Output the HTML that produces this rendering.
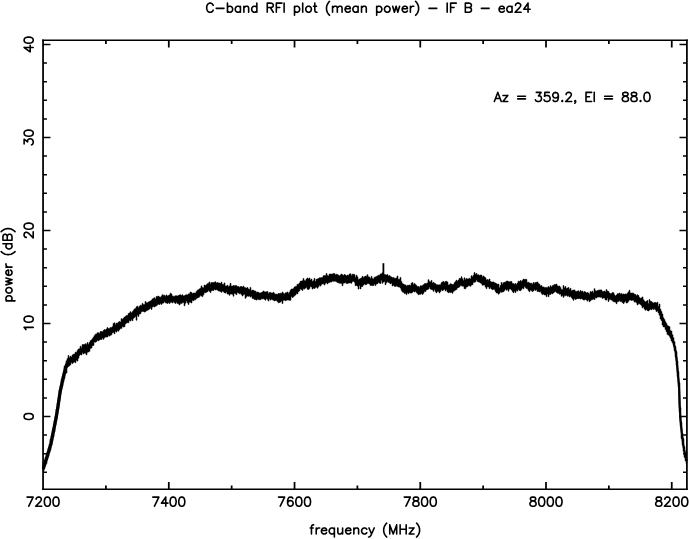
<!DOCTYPE html>
<html><head><meta charset="utf-8"><title>C-band RFI plot</title>
<style>
html,body{margin:0;padding:0;background:#fff;}
body{width:689px;height:539px;overflow:hidden;font-family:"Liberation Sans",sans-serif;}
svg{display:block;}
</style></head><body>
<svg width="689" height="539" viewBox="0 0 689 539">
<rect width="689" height="539" fill="#fff"/>
<path d="M43.05 39.45 V490.10 M686.90 39.45 V490.10M43.05 489.35 v-7.40M43.05 40.20 v7.40M105.92 489.35 v-3.90M105.92 40.20 v3.90M168.79 489.35 v-7.40M168.79 40.20 v7.40M231.66 489.35 v-3.90M231.66 40.20 v3.90M294.53 489.35 v-7.40M294.53 40.20 v7.40M357.40 489.35 v-3.90M357.40 40.20 v3.90M420.27 489.35 v-7.40M420.27 40.20 v7.40M483.14 489.35 v-3.90M483.14 40.20 v3.90M546.01 489.35 v-7.40M546.01 40.20 v7.40M608.88 489.35 v-3.90M608.88 40.20 v3.90M671.75 489.35 v-7.40M671.75 40.20 v7.40" fill="none" stroke="#000" stroke-width="1.75"/>
<path d="M42.20 40.20 H687.75 M42.20 489.35 H687.75M43.05 472.30 h3.90M686.90 472.30 h-3.90M43.05 453.70 h3.90M686.90 453.70 h-3.90M43.05 435.10 h3.90M686.90 435.10 h-3.90M43.05 416.50 h7.40M686.90 416.50 h-7.40M43.05 397.90 h3.90M686.90 397.90 h-3.90M43.05 379.30 h3.90M686.90 379.30 h-3.90M43.05 360.70 h3.90M686.90 360.70 h-3.90M43.05 342.10 h3.90M686.90 342.10 h-3.90M43.05 323.50 h7.40M686.90 323.50 h-7.40M43.05 304.90 h3.90M686.90 304.90 h-3.90M43.05 286.30 h3.90M686.90 286.30 h-3.90M43.05 267.70 h3.90M686.90 267.70 h-3.90M43.05 249.10 h3.90M686.90 249.10 h-3.90M43.05 230.50 h7.40M686.90 230.50 h-7.40M43.05 211.90 h3.90M686.90 211.90 h-3.90M43.05 193.30 h3.90M686.90 193.30 h-3.90M43.05 174.70 h3.90M686.90 174.70 h-3.90M43.05 156.10 h3.90M686.90 156.10 h-3.90M43.05 137.50 h7.40M686.90 137.50 h-7.40M43.05 118.90 h3.90M686.90 118.90 h-3.90M43.05 100.30 h3.90M686.90 100.30 h-3.90M43.05 81.70 h3.90M686.90 81.70 h-3.90M43.05 63.10 h3.90M686.90 63.10 h-3.90M43.05 44.50 h7.40M686.90 44.50 h-7.40" fill="none" stroke="#000" stroke-width="1.5"/>
<defs><clipPath id="vp"><rect x="42.20" y="40.20" width="645.55" height="449.15"/></clipPath></defs>
<g clip-path="url(#vp)">
<path d="M43.0 462.2 L44.0 462.2 L44.0 460.6 L45.0 460.6 L45.0 457.4 L46.0 457.4 L46.0 453.3 L47.0 453.3 L47.0 451.4 L48.0 451.4 L48.0 447.9 L49.0 447.9 L49.0 444.3 L50.0 444.3 L50.0 439.1 L51.0 439.1 L51.0 435.5 L52.0 435.5 L52.0 431.2 L53.0 431.2 L53.0 427.7 L54.0 427.7 L54.0 420.5 L55.0 420.5 L55.0 415.9 L56.0 415.9 L56.0 409.0 L57.0 409.0 L57.0 403.3 L58.0 403.3 L58.0 397.5 L59.0 397.5 L59.0 390.0 L60.0 390.0 L60.0 385.8 L61.0 385.8 L61.0 379.6 L62.0 379.6 L62.0 376.4 L63.0 376.4 L63.0 372.8 L64.0 372.8 L64.0 366.2 L65.0 366.2 L65.0 364.6 L66.0 364.6 L66.0 360.7 L67.0 360.7 L67.0 358.6 L68.0 358.6 L68.0 355.6 L69.0 355.6 L69.0 357.7 L70.0 357.7 L70.0 356.2 L71.0 356.2 L71.0 357.1 L72.0 357.1 L72.0 355.0 L73.0 355.0 L73.0 354.3 L74.0 354.3 L74.0 354.1 L75.0 354.1 L75.0 352.2 L76.0 352.2 L76.0 352.3 L77.0 352.3 L77.0 350.5 L78.0 350.5 L78.0 349.1 L79.0 349.1 L79.0 348.8 L80.0 348.8 L80.0 346.2 L81.0 346.2 L81.0 347.8 L82.0 347.8 L82.0 344.6 L83.0 344.6 L83.0 344.6 L84.0 344.6 L84.0 344.4 L85.0 344.4 L85.0 343.8 L86.0 343.8 L86.0 344.4 L87.0 344.4 L87.0 342.6 L88.0 342.6 L88.0 344.3 L89.0 344.3 L89.0 342.5 L90.0 342.5 L90.0 340.7 L91.0 340.7 L91.0 339.9 L92.0 339.9 L92.0 338.7 L93.0 338.7 L93.0 337.2 L94.0 337.2 L94.0 335.7 L95.0 335.7 L95.0 334.2 L96.0 334.2 L96.0 334.0 L97.0 334.0 L97.0 332.7 L98.0 332.7 L98.0 332.7 L99.0 332.7 L99.0 333.4 L100.0 333.4 L100.0 331.6 L101.0 331.6 L101.0 331.5 L102.0 331.5 L102.0 331.7 L103.0 331.7 L103.0 330.6 L104.0 330.6 L104.0 329.6 L105.0 329.6 L105.0 330.1 L106.0 330.1 L106.0 329.0 L107.0 329.0 L107.0 327.6 L108.0 327.6 L108.0 328.5 L109.0 328.5 L109.0 328.4 L110.0 328.4 L110.0 327.4 L111.0 327.4 L111.0 327.4 L112.0 327.4 L112.0 326.7 L113.0 326.7 L113.0 323.4 L114.0 323.4 L114.0 322.8 L115.0 322.8 L115.0 324.8 L116.0 324.8 L116.0 323.0 L117.0 323.0 L117.0 323.2 L118.0 323.2 L118.0 322.2 L119.0 322.2 L119.0 321.6 L120.0 321.6 L120.0 322.0 L121.0 322.0 L121.0 318.7 L122.0 318.7 L122.0 319.3 L123.0 319.3 L123.0 318.3 L124.0 318.3 L124.0 317.1 L125.0 317.1 L125.0 316.6 L126.0 316.6 L126.0 315.5 L127.0 315.5 L127.0 315.5 L128.0 315.5 L128.0 313.6 L129.0 313.6 L129.0 312.9 L130.0 312.9 L130.0 311.7 L131.0 311.7 L131.0 313.0 L132.0 313.0 L132.0 311.7 L133.0 311.7 L133.0 310.4 L134.0 310.4 L134.0 308.9 L135.0 308.9 L135.0 308.6 L136.0 308.6 L136.0 306.8 L137.0 306.8 L137.0 306.2 L138.0 306.2 L138.0 307.4 L139.0 307.4 L139.0 306.3 L140.0 306.3 L140.0 305.2 L141.0 305.2 L141.0 305.4 L142.0 305.4 L142.0 303.4 L143.0 303.4 L143.0 304.5 L144.0 304.5 L144.0 304.5 L145.0 304.5 L145.0 301.5 L146.0 301.5 L146.0 302.8 L147.0 302.8 L147.0 302.8 L148.0 302.8 L148.0 302.1 L149.0 302.1 L149.0 301.5 L150.0 301.5 L150.0 301.0 L151.0 301.0 L151.0 300.3 L152.0 300.3 L152.0 299.0 L153.0 299.0 L153.0 298.2 L154.0 298.2 L154.0 297.8 L155.0 297.8 L155.0 299.0 L156.0 299.0 L156.0 296.6 L157.0 296.6 L157.0 296.4 L158.0 296.4 L158.0 296.1 L159.0 296.1 L159.0 296.9 L160.0 296.9 L160.0 297.3 L161.0 297.3 L161.0 296.2 L162.0 296.2 L162.0 294.7 L163.0 294.7 L163.0 295.3 L164.0 295.3 L164.0 295.3 L165.0 295.3 L165.0 296.2 L166.0 296.2 L166.0 294.9 L167.0 294.9 L167.0 296.1 L168.0 296.1 L168.0 295.5 L169.0 295.5 L169.0 294.9 L170.0 294.9 L170.0 293.2 L171.0 293.2 L171.0 294.0 L172.0 294.0 L172.0 296.0 L173.0 296.0 L173.0 296.2 L174.0 296.2 L174.0 296.2 L175.0 296.2 L175.0 295.8 L176.0 295.8 L176.0 295.8 L177.0 295.8 L177.0 296.0 L178.0 296.0 L178.0 295.5 L179.0 295.5 L179.0 295.1 L180.0 295.1 L180.0 294.7 L181.0 294.7 L181.0 295.5 L182.0 295.5 L182.0 294.8 L183.0 294.8 L183.0 295.9 L184.0 295.9 L184.0 295.7 L185.0 295.7 L185.0 295.0 L186.0 295.0 L186.0 294.7 L187.0 294.7 L187.0 295.0 L188.0 295.0 L188.0 293.9 L189.0 293.9 L189.0 293.7 L190.0 293.7 L190.0 292.0 L191.0 292.0 L191.0 292.4 L192.0 292.4 L192.0 293.4 L193.0 293.4 L193.0 293.1 L194.0 293.1 L194.0 293.1 L195.0 293.1 L195.0 292.9 L196.0 292.9 L196.0 291.6 L197.0 291.6 L197.0 290.2 L198.0 290.2 L198.0 289.7 L199.0 289.7 L199.0 288.9 L200.0 288.9 L200.0 288.2 L201.0 288.2 L201.0 285.9 L202.0 285.9 L202.0 287.5 L203.0 287.5 L203.0 287.7 L204.0 287.7 L204.0 285.0 L205.0 285.0 L205.0 285.4 L206.0 285.4 L206.0 284.8 L207.0 284.8 L207.0 283.7 L208.0 283.7 L208.0 283.2 L209.0 283.2 L209.0 282.0 L210.0 282.0 L210.0 284.0 L211.0 284.0 L211.0 282.5 L212.0 282.5 L212.0 282.6 L213.0 282.6 L213.0 282.5 L214.0 282.5 L214.0 282.2 L215.0 282.2 L215.0 281.8 L216.0 281.8 L216.0 283.1 L217.0 283.1 L217.0 282.5 L218.0 282.5 L218.0 283.0 L219.0 283.0 L219.0 283.0 L220.0 283.0 L220.0 283.5 L221.0 283.5 L221.0 282.2 L222.0 282.2 L222.0 284.3 L223.0 284.3 L223.0 284.4 L224.0 284.4 L224.0 282.9 L225.0 282.9 L225.0 285.9 L226.0 285.9 L226.0 286.1 L227.0 286.1 L227.0 285.2 L228.0 285.2 L228.0 286.4 L229.0 286.4 L229.0 285.9 L230.0 285.9 L230.0 283.3 L231.0 283.3 L231.0 286.1 L232.0 286.1 L232.0 286.1 L233.0 286.1 L233.0 285.5 L234.0 285.5 L234.0 285.7 L235.0 285.7 L235.0 285.4 L236.0 285.4 L236.0 285.7 L237.0 285.7 L237.0 286.6 L238.0 286.6 L238.0 286.6 L239.0 286.6 L239.0 287.3 L240.0 287.3 L240.0 286.6 L241.0 286.6 L241.0 286.5 L242.0 286.5 L242.0 287.1 L243.0 287.1 L243.0 286.2 L244.0 286.2 L244.0 287.4 L245.0 287.4 L245.0 287.8 L246.0 287.8 L246.0 288.1 L247.0 288.1 L247.0 287.6 L248.0 287.6 L248.0 288.9 L249.0 288.9 L249.0 289.5 L250.0 289.5 L250.0 287.4 L251.0 287.4 L251.0 290.7 L252.0 290.7 L252.0 290.1 L253.0 290.1 L253.0 290.3 L254.0 290.3 L254.0 291.0 L255.0 291.0 L255.0 291.1 L256.0 291.1 L256.0 292.2 L257.0 292.2 L257.0 292.0 L258.0 292.0 L258.0 292.3 L259.0 292.3 L259.0 293.0 L260.0 293.0 L260.0 293.0 L261.0 293.0 L261.0 292.6 L262.0 292.6 L262.0 292.1 L263.0 292.1 L263.0 291.0 L264.0 291.0 L264.0 291.8 L265.0 291.8 L265.0 292.1 L266.0 292.1 L266.0 291.7 L267.0 291.7 L267.0 291.5 L268.0 291.5 L268.0 293.4 L269.0 293.4 L269.0 292.6 L270.0 292.6 L270.0 292.4 L271.0 292.4 L271.0 293.0 L272.0 293.0 L272.0 293.1 L273.0 293.1 L273.0 292.3 L274.0 292.3 L274.0 293.5 L275.0 293.5 L275.0 294.3 L276.0 294.3 L276.0 294.1 L277.0 294.1 L277.0 294.3 L278.0 294.3 L278.0 293.5 L279.0 293.5 L279.0 293.5 L280.0 293.5 L280.0 293.2 L281.0 293.2 L281.0 293.4 L282.0 293.4 L282.0 292.0 L283.0 292.0 L283.0 293.3 L284.0 293.3 L284.0 294.1 L285.0 294.1 L285.0 292.8 L286.0 292.8 L286.0 292.8 L287.0 292.8 L287.0 291.9 L288.0 291.9 L288.0 293.4 L289.0 293.4 L289.0 292.2 L290.0 292.2 L290.0 290.2 L291.0 290.2 L291.0 289.1 L292.0 289.1 L292.0 289.1 L293.0 289.1 L293.0 288.5 L294.0 288.5 L294.0 287.1 L295.0 287.1 L295.0 286.4 L296.0 286.4 L296.0 286.2 L297.0 286.2 L297.0 284.2 L298.0 284.2 L298.0 284.3 L299.0 284.3 L299.0 283.1 L300.0 283.1 L300.0 281.3 L301.0 281.3 L301.0 281.1 L302.0 281.1 L302.0 280.8 L303.0 280.8 L303.0 278.6 L304.0 278.6 L304.0 280.6 L305.0 280.6 L305.0 280.7 L306.0 280.7 L306.0 278.9 L307.0 278.9 L307.0 278.0 L308.0 278.0 L308.0 279.1 L309.0 279.1 L309.0 278.0 L310.0 278.0 L310.0 279.9 L311.0 279.9 L311.0 279.1 L312.0 279.1 L312.0 281.3 L313.0 281.3 L313.0 280.7 L314.0 280.7 L314.0 278.4 L315.0 278.4 L315.0 281.6 L316.0 281.6 L316.0 279.3 L317.0 279.3 L317.0 279.0 L318.0 279.0 L318.0 278.6 L319.0 278.6 L319.0 277.8 L320.0 277.8 L320.0 277.8 L321.0 277.8 L321.0 277.6 L322.0 277.6 L322.0 277.5 L323.0 277.5 L323.0 275.7 L324.0 275.7 L324.0 275.5 L325.0 275.5 L325.0 275.7 L326.0 275.7 L326.0 273.5 L327.0 273.5 L327.0 275.4 L328.0 275.4 L328.0 275.9 L329.0 275.9 L329.0 274.1 L330.0 274.1 L330.0 274.0 L331.0 274.0 L331.0 274.1 L332.0 274.1 L332.0 274.1 L333.0 274.1 L333.0 273.4 L334.0 273.4 L334.0 273.6 L335.0 273.6 L335.0 274.8 L336.0 274.8 L336.0 274.2 L337.0 274.2 L337.0 274.6 L338.0 274.6 L338.0 275.2 L339.0 275.2 L339.0 275.7 L340.0 275.7 L340.0 275.0 L341.0 275.0 L341.0 274.0 L342.0 274.0 L342.0 274.8 L343.0 274.8 L343.0 275.5 L344.0 275.5 L344.0 274.5 L345.0 274.5 L345.0 275.0 L346.0 275.0 L346.0 275.9 L347.0 275.9 L347.0 275.1 L348.0 275.1 L348.0 275.4 L349.0 275.4 L349.0 274.1 L350.0 274.1 L350.0 273.8 L351.0 273.8 L351.0 275.4 L352.0 275.4 L352.0 274.2 L353.0 274.2 L353.0 274.2 L354.0 274.2 L354.0 274.6 L355.0 274.6 L355.0 277.3 L356.0 277.3 L356.0 275.2 L357.0 275.2 L357.0 276.8 L358.0 276.8 L358.0 279.4 L359.0 279.4 L359.0 279.1 L360.0 279.1 L360.0 278.4 L361.0 278.4 L361.0 277.9 L362.0 277.9 L362.0 276.3 L363.0 276.3 L363.0 277.4 L364.0 277.4 L364.0 276.7 L365.0 276.7 L365.0 276.1 L366.0 276.1 L366.0 276.2 L367.0 276.2 L367.0 274.7 L368.0 274.7 L368.0 276.7 L369.0 276.7 L369.0 277.2 L370.0 277.2 L370.0 278.5 L371.0 278.5 L371.0 276.4 L372.0 276.4 L372.0 278.4 L373.0 278.4 L373.0 278.9 L374.0 278.9 L374.0 277.2 L375.0 277.2 L375.0 277.1 L376.0 277.1 L376.0 276.4 L377.0 276.4 L377.0 275.9 L378.0 275.9 L378.0 275.2 L379.0 275.2 L379.0 275.3 L380.0 275.3 L380.0 273.9 L381.0 273.9 L381.0 273.8 L382.0 273.8 L382.0 272.8 L383.0 272.8 L383.0 274.8 L384.0 274.8 L384.0 274.6 L385.0 274.6 L385.0 274.7 L386.0 274.7 L386.0 275.0 L387.0 275.0 L387.0 274.6 L388.0 274.6 L388.0 275.9 L389.0 275.9 L389.0 275.6 L390.0 275.6 L390.0 276.4 L391.0 276.4 L391.0 277.1 L392.0 277.1 L392.0 277.7 L393.0 277.7 L393.0 277.5 L394.0 277.5 L394.0 278.2 L395.0 278.2 L395.0 278.3 L396.0 278.3 L396.0 277.9 L397.0 277.9 L397.0 276.0 L398.0 276.0 L398.0 279.3 L399.0 279.3 L399.0 279.2 L400.0 279.2 L400.0 277.4 L401.0 277.4 L401.0 281.6 L402.0 281.6 L402.0 283.6 L403.0 283.6 L403.0 284.1 L404.0 284.1 L404.0 284.7 L405.0 284.7 L405.0 284.9 L406.0 284.9 L406.0 286.1 L407.0 286.1 L407.0 285.3 L408.0 285.3 L408.0 285.3 L409.0 285.3 L409.0 285.0 L410.0 285.0 L410.0 285.4 L411.0 285.4 L411.0 283.2 L412.0 283.2 L412.0 282.6 L413.0 282.6 L413.0 284.4 L414.0 284.4 L414.0 283.4 L415.0 283.4 L415.0 284.4 L416.0 284.4 L416.0 285.6 L417.0 285.6 L417.0 286.4 L418.0 286.4 L418.0 286.5 L419.0 286.5 L419.0 287.3 L420.0 287.3 L420.0 285.8 L421.0 285.8 L421.0 286.0 L422.0 286.0 L422.0 285.4 L423.0 285.4 L423.0 284.8 L424.0 284.8 L424.0 283.8 L425.0 283.8 L425.0 283.6 L426.0 283.6 L426.0 283.4 L427.0 283.4 L427.0 282.9 L428.0 282.9 L428.0 279.7 L429.0 279.7 L429.0 281.6 L430.0 281.6 L430.0 281.9 L431.0 281.9 L431.0 280.4 L432.0 280.4 L432.0 283.0 L433.0 283.0 L433.0 282.4 L434.0 282.4 L434.0 283.3 L435.0 283.3 L435.0 283.7 L436.0 283.7 L436.0 284.8 L437.0 284.8 L437.0 284.7 L438.0 284.7 L438.0 285.0 L439.0 285.0 L439.0 284.8 L440.0 284.8 L440.0 284.7 L441.0 284.7 L441.0 282.7 L442.0 282.7 L442.0 281.9 L443.0 281.9 L443.0 281.5 L444.0 281.5 L444.0 282.5 L445.0 282.5 L445.0 281.5 L446.0 281.5 L446.0 281.3 L447.0 281.3 L447.0 282.1 L448.0 282.1 L448.0 284.9 L449.0 284.9 L449.0 284.8 L450.0 284.8 L450.0 283.7 L451.0 283.7 L451.0 284.0 L452.0 284.0 L452.0 284.5 L453.0 284.5 L453.0 284.5 L454.0 284.5 L454.0 282.7 L455.0 282.7 L455.0 281.6 L456.0 281.6 L456.0 280.2 L457.0 280.2 L457.0 281.2 L458.0 281.2 L458.0 280.1 L459.0 280.1 L459.0 278.4 L460.0 278.4 L460.0 278.6 L461.0 278.6 L461.0 276.8 L462.0 276.8 L462.0 278.7 L463.0 278.7 L463.0 280.6 L464.0 280.6 L464.0 277.8 L465.0 277.8 L465.0 279.7 L466.0 279.7 L466.0 278.4 L467.0 278.4 L467.0 279.0 L468.0 279.0 L468.0 278.9 L469.0 278.9 L469.0 278.2 L470.0 278.2 L470.0 279.0 L471.0 279.0 L471.0 275.7 L472.0 275.7 L472.0 276.8 L473.0 276.8 L473.0 275.3 L474.0 275.3 L474.0 272.6 L475.0 272.6 L475.0 274.3 L476.0 274.3 L476.0 273.4 L477.0 273.4 L477.0 274.9 L478.0 274.9 L478.0 274.7 L479.0 274.7 L479.0 275.6 L480.0 275.6 L480.0 275.1 L481.0 275.1 L481.0 275.0 L482.0 275.0 L482.0 277.0 L483.0 277.0 L483.0 276.0 L484.0 276.0 L484.0 277.0 L485.0 277.0 L485.0 277.8 L486.0 277.8 L486.0 280.0 L487.0 280.0 L487.0 279.6 L488.0 279.6 L488.0 280.2 L489.0 280.2 L489.0 279.0 L490.0 279.0 L490.0 281.5 L491.0 281.5 L491.0 282.1 L492.0 282.1 L492.0 281.9 L493.0 281.9 L493.0 281.9 L494.0 281.9 L494.0 282.7 L495.0 282.7 L495.0 283.1 L496.0 283.1 L496.0 283.7 L497.0 283.7 L497.0 284.3 L498.0 284.3 L498.0 284.1 L499.0 284.1 L499.0 287.7 L500.0 287.7 L500.0 285.6 L501.0 285.6 L501.0 282.4 L502.0 282.4 L502.0 284.2 L503.0 284.2 L503.0 282.7 L504.0 282.7 L504.0 282.3 L505.0 282.3 L505.0 282.1 L506.0 282.1 L506.0 281.2 L507.0 281.2 L507.0 281.0 L508.0 281.0 L508.0 281.6 L509.0 281.6 L509.0 282.0 L510.0 282.0 L510.0 281.4 L511.0 281.4 L511.0 281.5 L512.0 281.5 L512.0 283.4 L513.0 283.4 L513.0 283.6 L514.0 283.6 L514.0 284.3 L515.0 284.3 L515.0 283.6 L516.0 283.6 L516.0 284.6 L517.0 284.6 L517.0 283.1 L518.0 283.1 L518.0 281.2 L519.0 281.2 L519.0 281.5 L520.0 281.5 L520.0 280.6 L521.0 280.6 L521.0 281.3 L522.0 281.3 L522.0 280.5 L523.0 280.5 L523.0 279.0 L524.0 279.0 L524.0 279.5 L525.0 279.5 L525.0 279.2 L526.0 279.2 L526.0 279.5 L527.0 279.5 L527.0 282.6 L528.0 282.6 L528.0 282.3 L529.0 282.3 L529.0 282.9 L530.0 282.9 L530.0 283.3 L531.0 283.3 L531.0 283.3 L532.0 283.3 L532.0 284.3 L533.0 284.3 L533.0 282.5 L534.0 282.5 L534.0 283.2 L535.0 283.2 L535.0 282.5 L536.0 282.5 L536.0 282.3 L537.0 282.3 L537.0 282.0 L538.0 282.0 L538.0 283.4 L539.0 283.4 L539.0 284.3 L540.0 284.3 L540.0 285.9 L541.0 285.9 L541.0 285.5 L542.0 285.5 L542.0 286.9 L543.0 286.9 L543.0 286.9 L544.0 286.9 L544.0 287.4 L545.0 287.4 L545.0 287.5 L546.0 287.5 L546.0 287.4 L547.0 287.4 L547.0 287.4 L548.0 287.4 L548.0 286.6 L549.0 286.6 L549.0 287.6 L550.0 287.6 L550.0 285.7 L551.0 285.7 L551.0 286.9 L552.0 286.9 L552.0 285.7 L553.0 285.7 L553.0 285.2 L554.0 285.2 L554.0 284.6 L555.0 284.6 L555.0 284.4 L556.0 284.4 L556.0 284.1 L557.0 284.1 L557.0 285.8 L558.0 285.8 L558.0 286.2 L559.0 286.2 L559.0 286.0 L560.0 286.0 L560.0 287.4 L561.0 287.4 L561.0 289.4 L562.0 289.4 L562.0 289.4 L563.0 289.4 L563.0 285.5 L564.0 285.5 L564.0 287.8 L565.0 287.8 L565.0 286.6 L566.0 286.6 L566.0 288.6 L567.0 288.6 L567.0 288.1 L568.0 288.1 L568.0 287.5 L569.0 287.5 L569.0 289.5 L570.0 289.5 L570.0 288.3 L571.0 288.3 L571.0 290.7 L572.0 290.7 L572.0 290.2 L573.0 290.2 L573.0 290.1 L574.0 290.1 L574.0 289.9 L575.0 289.9 L575.0 291.2 L576.0 291.2 L576.0 291.4 L577.0 291.4 L577.0 291.1 L578.0 291.1 L578.0 290.8 L579.0 290.8 L579.0 291.9 L580.0 291.9 L580.0 290.5 L581.0 290.5 L581.0 291.4 L582.0 291.4 L582.0 291.1 L583.0 291.1 L583.0 292.6 L584.0 292.6 L584.0 291.6 L585.0 291.6 L585.0 292.1 L586.0 292.1 L586.0 293.0 L587.0 293.0 L587.0 292.6 L588.0 292.6 L588.0 293.0 L589.0 293.0 L589.0 294.3 L590.0 294.3 L590.0 291.6 L591.0 291.6 L591.0 292.0 L592.0 292.0 L592.0 291.2 L593.0 291.2 L593.0 292.9 L594.0 292.9 L594.0 288.7 L595.0 288.7 L595.0 290.8 L596.0 290.8 L596.0 291.1 L597.0 291.1 L597.0 290.6 L598.0 290.6 L598.0 290.2 L599.0 290.2 L599.0 290.0 L600.0 290.0 L600.0 289.9 L601.0 289.9 L601.0 289.9 L602.0 289.9 L602.0 291.6 L603.0 291.6 L603.0 291.4 L604.0 291.4 L604.0 291.0 L605.0 291.0 L605.0 291.9 L606.0 291.9 L606.0 289.6 L607.0 289.6 L607.0 291.1 L608.0 291.1 L608.0 291.5 L609.0 291.5 L609.0 293.0 L610.0 293.0 L610.0 293.8 L611.0 293.8 L611.0 293.4 L612.0 293.4 L612.0 292.6 L613.0 292.6 L613.0 292.7 L614.0 292.7 L614.0 294.7 L615.0 294.7 L615.0 296.1 L616.0 296.1 L616.0 295.1 L617.0 295.1 L617.0 293.7 L618.0 293.7 L618.0 293.7 L619.0 293.7 L619.0 293.0 L620.0 293.0 L620.0 294.2 L621.0 294.2 L621.0 293.4 L622.0 293.4 L622.0 294.6 L623.0 294.6 L623.0 293.9 L624.0 293.9 L624.0 294.3 L625.0 294.3 L625.0 293.9 L626.0 293.9 L626.0 294.2 L627.0 294.2 L627.0 293.3 L628.0 293.3 L628.0 291.9 L629.0 291.9 L629.0 290.3 L630.0 290.3 L630.0 293.1 L631.0 293.1 L631.0 293.0 L632.0 293.0 L632.0 293.0 L633.0 293.0 L633.0 293.2 L634.0 293.2 L634.0 294.3 L635.0 294.3 L635.0 294.5 L636.0 294.5 L636.0 295.7 L637.0 295.7 L637.0 294.8 L638.0 294.8 L638.0 295.6 L639.0 295.6 L639.0 297.6 L640.0 297.6 L640.0 298.3 L641.0 298.3 L641.0 297.9 L642.0 297.9 L642.0 296.9 L643.0 296.9 L643.0 299.7 L644.0 299.7 L644.0 301.1 L645.0 301.1 L645.0 302.0 L646.0 302.0 L646.0 301.3 L647.0 301.3 L647.0 300.6 L648.0 300.6 L648.0 303.4 L649.0 303.4 L649.0 299.6 L650.0 299.6 L650.0 301.3 L651.0 301.3 L651.0 301.6 L652.0 301.6 L652.0 302.5 L653.0 302.5 L653.0 302.9 L654.0 302.9 L654.0 302.6 L655.0 302.6 L655.0 302.4 L656.0 302.4 L656.0 303.0 L657.0 303.0 L657.0 302.2 L658.0 302.2 L658.0 306.2 L659.0 306.2 L659.0 304.0 L660.0 304.0 L660.0 309.3 L661.0 309.3 L661.0 311.6 L662.0 311.6 L662.0 314.1 L663.0 314.1 L663.0 317.8 L664.0 317.8 L664.0 319.5 L665.0 319.5 L665.0 321.8 L666.0 321.8 L666.0 323.5 L667.0 323.5 L667.0 325.4 L668.0 325.4 L668.0 326.1 L669.0 326.1 L669.0 326.7 L670.0 326.7 L670.0 330.6 L671.0 330.6 L671.0 331.1 L672.0 331.1 L672.0 334.7 L673.0 334.7 L673.0 337.8 L674.0 337.8 L674.0 341.7 L675.0 341.7 L675.0 346.6 L676.0 346.6 L676.0 351.7 L677.0 351.7 L677.0 361.1 L678.0 361.1 L678.0 371.7 L679.0 371.7 L679.0 382.9 L680.0 382.9 L680.0 407.7 L681.0 407.7 L681.0 422.4 L682.0 422.4 L682.0 433.3 L683.0 433.3 L683.0 438.7 L684.0 438.7 L684.0 446.7 L685.0 446.7 L685.0 453.3 L686.0 453.3 L686.0 452.0 L687.0 452.0 L687.0 463.6 L686.0 463.6 L686.0 460.9 L685.0 460.9 L685.0 457.3 L684.0 457.3 L684.0 451.3 L683.0 451.3 L683.0 444.7 L682.0 444.7 L682.0 438.5 L681.0 438.5 L681.0 426.3 L680.0 426.3 L680.0 412.2 L679.0 412.2 L679.0 387.1 L678.0 387.1 L678.0 376.6 L677.0 376.6 L677.0 365.1 L676.0 365.1 L676.0 356.9 L675.0 356.9 L675.0 350.5 L674.0 350.5 L674.0 345.2 L673.0 345.2 L673.0 342.8 L672.0 342.8 L672.0 341.0 L671.0 341.0 L671.0 338.2 L670.0 338.2 L670.0 336.2 L669.0 336.2 L669.0 335.0 L668.0 335.0 L668.0 334.6 L667.0 334.6 L667.0 331.7 L666.0 331.7 L666.0 329.5 L665.0 329.5 L665.0 327.0 L664.0 327.0 L664.0 326.9 L663.0 326.9 L663.0 325.1 L662.0 325.1 L662.0 320.5 L661.0 320.5 L661.0 319.0 L660.0 319.0 L660.0 315.2 L659.0 315.2 L659.0 312.9 L658.0 312.9 L658.0 311.0 L657.0 311.0 L657.0 311.5 L656.0 311.5 L656.0 309.8 L655.0 309.8 L655.0 308.8 L654.0 308.8 L654.0 309.4 L653.0 309.4 L653.0 308.7 L652.0 308.7 L652.0 309.8 L651.0 309.8 L651.0 309.2 L650.0 309.2 L650.0 310.1 L649.0 310.1 L649.0 311.0 L648.0 311.0 L648.0 310.5 L647.0 310.5 L647.0 309.4 L646.0 309.4 L646.0 310.2 L645.0 310.2 L645.0 309.1 L644.0 309.1 L644.0 306.9 L643.0 306.9 L643.0 307.8 L642.0 307.8 L642.0 305.4 L641.0 305.4 L641.0 304.5 L640.0 304.5 L640.0 303.7 L639.0 303.7 L639.0 303.8 L638.0 303.8 L638.0 304.9 L637.0 304.9 L637.0 302.7 L636.0 302.7 L636.0 301.8 L635.0 301.8 L635.0 302.1 L634.0 302.1 L634.0 300.2 L633.0 300.2 L633.0 300.2 L632.0 300.2 L632.0 300.4 L631.0 300.4 L631.0 300.1 L630.0 300.1 L630.0 300.1 L629.0 300.1 L629.0 301.2 L628.0 301.2 L628.0 302.7 L627.0 302.7 L627.0 302.9 L626.0 302.9 L626.0 301.0 L625.0 301.0 L625.0 302.2 L624.0 302.2 L624.0 303.5 L623.0 303.5 L623.0 302.5 L622.0 302.5 L622.0 301.6 L621.0 301.6 L621.0 301.6 L620.0 301.6 L620.0 300.7 L619.0 300.7 L619.0 301.4 L618.0 301.4 L618.0 301.8 L617.0 301.8 L617.0 303.7 L616.0 303.7 L616.0 302.0 L615.0 302.0 L615.0 302.0 L614.0 302.0 L614.0 301.6 L613.0 301.6 L613.0 300.7 L612.0 300.7 L612.0 300.0 L611.0 300.0 L611.0 299.6 L610.0 299.6 L610.0 299.4 L609.0 299.4 L609.0 301.4 L608.0 301.4 L608.0 298.3 L607.0 298.3 L607.0 300.1 L606.0 300.1 L606.0 299.9 L605.0 299.9 L605.0 298.0 L604.0 298.0 L604.0 297.9 L603.0 297.9 L603.0 298.4 L602.0 298.4 L602.0 297.2 L601.0 297.2 L601.0 297.2 L600.0 297.2 L600.0 297.1 L599.0 297.1 L599.0 297.1 L598.0 297.1 L598.0 297.0 L597.0 297.0 L597.0 298.0 L596.0 298.0 L596.0 297.8 L595.0 297.8 L595.0 299.6 L594.0 299.6 L594.0 299.0 L593.0 299.0 L593.0 299.4 L592.0 299.4 L592.0 299.8 L591.0 299.8 L591.0 300.7 L590.0 300.7 L590.0 301.7 L589.0 301.7 L589.0 299.7 L588.0 299.7 L588.0 301.1 L587.0 301.1 L587.0 300.0 L586.0 300.0 L586.0 299.2 L585.0 299.2 L585.0 300.0 L584.0 300.0 L584.0 300.0 L583.0 300.0 L583.0 299.0 L582.0 299.0 L582.0 298.7 L581.0 298.7 L581.0 299.1 L580.0 299.1 L580.0 298.5 L579.0 298.5 L579.0 298.7 L578.0 298.7 L578.0 298.7 L577.0 298.7 L577.0 298.9 L576.0 298.9 L576.0 299.4 L575.0 299.4 L575.0 298.5 L574.0 298.5 L574.0 300.3 L573.0 300.3 L573.0 298.8 L572.0 298.8 L572.0 297.5 L571.0 297.5 L571.0 296.3 L570.0 296.3 L570.0 296.9 L569.0 296.9 L569.0 295.7 L568.0 295.7 L568.0 296.2 L567.0 296.2 L567.0 295.3 L566.0 295.3 L566.0 295.8 L565.0 295.8 L565.0 295.8 L564.0 295.8 L564.0 297.3 L563.0 297.3 L563.0 295.4 L562.0 295.4 L562.0 296.2 L561.0 296.2 L561.0 293.9 L560.0 293.9 L560.0 294.2 L559.0 294.2 L559.0 293.2 L558.0 293.2 L558.0 293.2 L557.0 293.2 L557.0 292.4 L556.0 292.4 L556.0 291.5 L555.0 291.5 L555.0 292.0 L554.0 292.0 L554.0 292.9 L553.0 292.9 L553.0 293.8 L552.0 293.8 L552.0 293.4 L551.0 293.4 L551.0 294.4 L550.0 294.4 L550.0 294.6 L549.0 294.6 L549.0 296.7 L548.0 296.7 L548.0 294.0 L547.0 294.0 L547.0 296.6 L546.0 296.6 L546.0 294.9 L545.0 294.9 L545.0 294.9 L544.0 294.9 L544.0 293.9 L543.0 293.9 L543.0 294.6 L542.0 294.6 L542.0 293.4 L541.0 293.4 L541.0 291.6 L540.0 291.6 L540.0 291.9 L539.0 291.9 L539.0 291.5 L538.0 291.5 L538.0 291.6 L537.0 291.6 L537.0 289.8 L536.0 289.8 L536.0 290.4 L535.0 290.4 L535.0 289.6 L534.0 289.6 L534.0 290.9 L533.0 290.9 L533.0 291.4 L532.0 291.4 L532.0 290.8 L531.0 290.8 L531.0 290.0 L530.0 290.0 L530.0 291.7 L529.0 291.7 L529.0 290.4 L528.0 290.4 L528.0 288.8 L527.0 288.8 L527.0 288.6 L526.0 288.6 L526.0 287.5 L525.0 287.5 L525.0 286.5 L524.0 286.5 L524.0 288.8 L523.0 288.8 L523.0 288.0 L522.0 288.0 L522.0 289.6 L521.0 289.6 L521.0 290.7 L520.0 290.7 L520.0 290.4 L519.0 290.4 L519.0 289.5 L518.0 289.5 L518.0 291.1 L517.0 291.1 L517.0 290.7 L516.0 290.7 L516.0 292.5 L515.0 292.5 L515.0 291.2 L514.0 291.2 L514.0 292.7 L513.0 292.7 L513.0 291.5 L512.0 291.5 L512.0 289.9 L511.0 289.9 L511.0 288.9 L510.0 288.9 L510.0 289.1 L509.0 289.1 L509.0 291.2 L508.0 291.2 L508.0 289.4 L507.0 289.4 L507.0 290.2 L506.0 290.2 L506.0 289.1 L505.0 289.1 L505.0 290.6 L504.0 290.6 L504.0 291.7 L503.0 291.7 L503.0 291.9 L502.0 291.9 L502.0 292.3 L501.0 292.3 L501.0 291.8 L500.0 291.8 L500.0 293.3 L499.0 293.3 L499.0 294.2 L498.0 294.2 L498.0 292.9 L497.0 292.9 L497.0 292.9 L496.0 292.9 L496.0 291.4 L495.0 291.4 L495.0 289.5 L494.0 289.5 L494.0 289.3 L493.0 289.3 L493.0 289.7 L492.0 289.7 L492.0 288.9 L491.0 288.9 L491.0 287.5 L490.0 287.5 L490.0 288.7 L489.0 288.7 L489.0 286.9 L488.0 286.9 L488.0 286.7 L487.0 286.7 L487.0 288.6 L486.0 288.6 L486.0 286.9 L485.0 286.9 L485.0 285.0 L484.0 285.0 L484.0 285.0 L483.0 285.0 L483.0 285.3 L482.0 285.3 L482.0 283.5 L481.0 283.5 L481.0 283.1 L480.0 283.1 L480.0 282.2 L479.0 282.2 L479.0 281.9 L478.0 281.9 L478.0 281.6 L477.0 281.6 L477.0 280.1 L476.0 280.1 L476.0 281.8 L475.0 281.8 L475.0 282.3 L474.0 282.3 L474.0 282.4 L473.0 282.4 L473.0 284.7 L472.0 284.7 L472.0 285.1 L471.0 285.1 L471.0 286.3 L470.0 286.3 L470.0 285.8 L469.0 285.8 L469.0 285.8 L468.0 285.8 L468.0 286.7 L467.0 286.7 L467.0 287.1 L466.0 287.1 L466.0 288.7 L465.0 288.7 L465.0 288.7 L464.0 288.7 L464.0 286.2 L463.0 286.2 L463.0 286.2 L462.0 286.2 L462.0 285.7 L461.0 285.7 L461.0 285.4 L460.0 285.4 L460.0 286.9 L459.0 286.9 L459.0 287.4 L458.0 287.4 L458.0 288.0 L457.0 288.0 L457.0 289.4 L456.0 289.4 L456.0 290.1 L455.0 290.1 L455.0 290.7 L454.0 290.7 L454.0 291.4 L453.0 291.4 L453.0 293.2 L452.0 293.2 L452.0 292.3 L451.0 292.3 L451.0 292.6 L450.0 292.6 L450.0 292.2 L449.0 292.2 L449.0 292.7 L448.0 292.7 L448.0 291.9 L447.0 291.9 L447.0 289.8 L446.0 289.8 L446.0 291.0 L445.0 291.0 L445.0 289.1 L444.0 289.1 L444.0 289.9 L443.0 289.9 L443.0 290.7 L442.0 290.7 L442.0 289.7 L441.0 289.7 L441.0 291.6 L440.0 291.6 L440.0 292.9 L439.0 292.9 L439.0 291.4 L438.0 291.4 L438.0 291.5 L437.0 291.5 L437.0 292.8 L436.0 292.8 L436.0 291.5 L435.0 291.5 L435.0 289.6 L434.0 289.6 L434.0 291.2 L433.0 291.2 L433.0 289.7 L432.0 289.7 L432.0 289.5 L431.0 289.5 L431.0 289.1 L430.0 289.1 L430.0 287.2 L429.0 287.2 L429.0 289.0 L428.0 289.0 L428.0 289.5 L427.0 289.5 L427.0 289.9 L426.0 289.9 L426.0 291.5 L425.0 291.5 L425.0 291.4 L424.0 291.4 L424.0 293.3 L423.0 293.3 L423.0 294.4 L422.0 294.4 L422.0 293.5 L421.0 293.5 L421.0 294.2 L420.0 294.2 L420.0 294.3 L419.0 294.3 L419.0 294.7 L418.0 294.7 L418.0 293.6 L417.0 293.6 L417.0 292.6 L416.0 292.6 L416.0 291.3 L415.0 291.3 L415.0 292.0 L414.0 292.0 L414.0 291.3 L413.0 291.3 L413.0 292.3 L412.0 292.3 L412.0 293.1 L411.0 293.1 L411.0 293.1 L410.0 293.1 L410.0 292.7 L409.0 292.7 L409.0 293.7 L408.0 293.7 L408.0 292.7 L407.0 292.7 L407.0 294.6 L406.0 294.6 L406.0 293.2 L405.0 293.2 L405.0 293.4 L404.0 293.4 L404.0 292.2 L403.0 292.2 L403.0 292.0 L402.0 292.0 L402.0 290.3 L401.0 290.3 L401.0 288.1 L400.0 288.1 L400.0 287.0 L399.0 287.0 L399.0 287.0 L398.0 287.0 L398.0 286.4 L397.0 286.4 L397.0 285.9 L396.0 285.9 L396.0 286.4 L395.0 286.4 L395.0 286.3 L394.0 286.3 L394.0 285.2 L393.0 285.2 L393.0 285.9 L392.0 285.9 L392.0 283.1 L391.0 283.1 L391.0 283.9 L390.0 283.9 L390.0 282.8 L389.0 282.8 L389.0 282.4 L388.0 282.4 L388.0 281.7 L387.0 281.7 L387.0 282.7 L386.0 282.7 L386.0 284.7 L385.0 284.7 L385.0 281.5 L384.0 281.5 L384.0 282.0 L383.0 282.0 L383.0 283.2 L382.0 283.2 L382.0 280.6 L381.0 280.6 L381.0 283.6 L380.0 283.6 L380.0 283.1 L379.0 283.1 L379.0 282.6 L378.0 282.6 L378.0 283.7 L377.0 283.7 L377.0 284.0 L376.0 284.0 L376.0 285.5 L375.0 285.5 L375.0 284.0 L374.0 284.0 L374.0 285.5 L373.0 285.5 L373.0 285.6 L372.0 285.6 L372.0 285.4 L371.0 285.4 L371.0 285.4 L370.0 285.4 L370.0 284.1 L369.0 284.1 L369.0 283.5 L368.0 283.5 L368.0 283.5 L367.0 283.5 L367.0 284.4 L366.0 284.4 L366.0 284.7 L365.0 284.7 L365.0 283.9 L364.0 283.9 L364.0 285.0 L363.0 285.0 L363.0 286.4 L362.0 286.4 L362.0 286.7 L361.0 286.7 L361.0 288.9 L360.0 288.9 L360.0 285.6 L359.0 285.6 L359.0 289.1 L358.0 289.1 L358.0 286.1 L357.0 286.1 L357.0 285.4 L356.0 285.4 L356.0 285.7 L355.0 285.7 L355.0 282.2 L354.0 282.2 L354.0 281.2 L353.0 281.2 L353.0 281.5 L352.0 281.5 L352.0 283.2 L351.0 283.2 L351.0 282.9 L350.0 282.9 L350.0 282.9 L349.0 282.9 L349.0 283.1 L348.0 283.1 L348.0 283.6 L347.0 283.6 L347.0 283.4 L346.0 283.4 L346.0 282.6 L345.0 282.6 L345.0 283.1 L344.0 283.1 L344.0 283.2 L343.0 283.2 L343.0 285.7 L342.0 285.7 L342.0 283.4 L341.0 283.4 L341.0 283.3 L340.0 283.3 L340.0 283.3 L339.0 283.3 L339.0 282.8 L338.0 282.8 L338.0 282.5 L337.0 282.5 L337.0 281.7 L336.0 281.7 L336.0 281.3 L335.0 281.3 L335.0 281.3 L334.0 281.3 L334.0 281.3 L333.0 281.3 L333.0 281.1 L332.0 281.1 L332.0 282.0 L331.0 282.0 L331.0 281.9 L330.0 281.9 L330.0 282.4 L329.0 282.4 L329.0 282.7 L328.0 282.7 L328.0 283.9 L327.0 283.9 L327.0 282.7 L326.0 282.7 L326.0 283.3 L325.0 283.3 L325.0 285.0 L324.0 285.0 L324.0 283.7 L323.0 283.7 L323.0 283.9 L322.0 283.9 L322.0 284.4 L321.0 284.4 L321.0 286.1 L320.0 286.1 L320.0 285.3 L319.0 285.3 L319.0 286.8 L318.0 286.8 L318.0 288.2 L317.0 288.2 L317.0 287.0 L316.0 287.0 L316.0 287.6 L315.0 287.6 L315.0 288.6 L314.0 288.6 L314.0 288.0 L313.0 288.0 L313.0 289.1 L312.0 289.1 L312.0 286.9 L311.0 286.9 L311.0 286.6 L310.0 286.6 L310.0 288.5 L309.0 288.5 L309.0 289.5 L308.0 289.5 L308.0 289.2 L307.0 289.2 L307.0 287.2 L306.0 287.2 L306.0 287.9 L305.0 287.9 L305.0 289.0 L304.0 289.0 L304.0 288.8 L303.0 288.8 L303.0 290.4 L302.0 290.4 L302.0 289.4 L301.0 289.4 L301.0 288.9 L300.0 288.9 L300.0 290.8 L299.0 290.8 L299.0 291.7 L298.0 291.7 L298.0 293.9 L297.0 293.9 L297.0 293.6 L296.0 293.6 L296.0 295.0 L295.0 295.0 L295.0 295.8 L294.0 295.8 L294.0 296.8 L293.0 296.8 L293.0 297.5 L292.0 297.5 L292.0 296.6 L291.0 296.6 L291.0 300.3 L290.0 300.3 L290.0 300.3 L289.0 300.3 L289.0 300.1 L288.0 300.1 L288.0 300.1 L287.0 300.1 L287.0 300.2 L286.0 300.2 L286.0 300.7 L285.0 300.7 L285.0 300.2 L284.0 300.2 L284.0 300.3 L283.0 300.3 L283.0 303.5 L282.0 303.5 L282.0 301.0 L281.0 301.0 L281.0 302.1 L280.0 302.1 L280.0 302.4 L279.0 302.4 L279.0 302.8 L278.0 302.8 L278.0 301.5 L277.0 301.5 L277.0 300.6 L276.0 300.6 L276.0 300.4 L275.0 300.4 L275.0 300.9 L274.0 300.9 L274.0 300.2 L273.0 300.2 L273.0 299.8 L272.0 299.8 L272.0 299.2 L271.0 299.2 L271.0 300.1 L270.0 300.1 L270.0 298.8 L269.0 298.8 L269.0 301.0 L268.0 301.0 L268.0 299.3 L267.0 299.3 L267.0 298.5 L266.0 298.5 L266.0 300.2 L265.0 300.2 L265.0 299.3 L264.0 299.3 L264.0 298.7 L263.0 298.7 L263.0 299.0 L262.0 299.0 L262.0 298.7 L261.0 298.7 L261.0 299.7 L260.0 299.7 L260.0 299.7 L259.0 299.7 L259.0 299.6 L258.0 299.6 L258.0 299.3 L257.0 299.3 L257.0 300.1 L256.0 300.1 L256.0 299.5 L255.0 299.5 L255.0 299.4 L254.0 299.4 L254.0 298.6 L253.0 298.6 L253.0 298.5 L252.0 298.5 L252.0 296.2 L251.0 296.2 L251.0 297.1 L250.0 297.1 L250.0 295.9 L249.0 295.9 L249.0 296.3 L248.0 296.3 L248.0 295.9 L247.0 295.9 L247.0 296.8 L246.0 296.8 L246.0 298.3 L245.0 298.3 L245.0 294.3 L244.0 294.3 L244.0 294.7 L243.0 294.7 L243.0 296.0 L242.0 296.0 L242.0 294.5 L241.0 294.5 L241.0 293.6 L240.0 293.6 L240.0 293.7 L239.0 293.7 L239.0 292.9 L238.0 292.9 L238.0 292.6 L237.0 292.6 L237.0 294.7 L236.0 294.7 L236.0 293.7 L235.0 293.7 L235.0 293.3 L234.0 293.3 L234.0 296.2 L233.0 296.2 L233.0 294.3 L232.0 294.3 L232.0 294.1 L231.0 294.1 L231.0 293.9 L230.0 293.9 L230.0 295.3 L229.0 295.3 L229.0 293.9 L228.0 293.9 L228.0 294.1 L227.0 294.1 L227.0 292.1 L226.0 292.1 L226.0 293.1 L225.0 293.1 L225.0 292.7 L224.0 292.7 L224.0 291.7 L223.0 291.7 L223.0 291.0 L222.0 291.0 L222.0 292.3 L221.0 292.3 L221.0 291.5 L220.0 291.5 L220.0 291.1 L219.0 291.1 L219.0 291.0 L218.0 291.0 L218.0 290.0 L217.0 290.0 L217.0 289.7 L216.0 289.7 L216.0 289.9 L215.0 289.9 L215.0 289.3 L214.0 289.3 L214.0 290.5 L213.0 290.5 L213.0 290.4 L212.0 290.4 L212.0 290.7 L211.0 290.7 L211.0 292.5 L210.0 292.5 L210.0 291.3 L209.0 291.3 L209.0 290.4 L208.0 290.4 L208.0 291.7 L207.0 291.7 L207.0 292.2 L206.0 292.2 L206.0 292.7 L205.0 292.7 L205.0 292.8 L204.0 292.8 L204.0 294.8 L203.0 294.8 L203.0 296.6 L202.0 296.6 L202.0 296.0 L201.0 296.0 L201.0 295.6 L200.0 295.6 L200.0 296.8 L199.0 296.8 L199.0 297.6 L198.0 297.6 L198.0 297.9 L197.0 297.9 L197.0 298.4 L196.0 298.4 L196.0 299.8 L195.0 299.8 L195.0 299.7 L194.0 299.7 L194.0 300.8 L193.0 300.8 L193.0 300.3 L192.0 300.3 L192.0 303.0 L191.0 303.0 L191.0 302.3 L190.0 302.3 L190.0 302.2 L189.0 302.2 L189.0 304.4 L188.0 304.4 L188.0 302.7 L187.0 302.7 L187.0 301.1 L186.0 301.1 L186.0 303.2 L185.0 303.2 L185.0 305.8 L184.0 305.8 L184.0 302.6 L183.0 302.6 L183.0 302.8 L182.0 302.8 L182.0 303.4 L181.0 303.4 L181.0 303.6 L180.0 303.6 L180.0 305.0 L179.0 305.0 L179.0 303.8 L178.0 303.8 L178.0 303.5 L177.0 303.5 L177.0 302.2 L176.0 302.2 L176.0 303.4 L175.0 303.4 L175.0 302.7 L174.0 302.7 L174.0 301.8 L173.0 301.8 L173.0 303.0 L172.0 303.0 L172.0 302.2 L171.0 302.2 L171.0 302.3 L170.0 302.3 L170.0 303.6 L169.0 303.6 L169.0 302.5 L168.0 302.5 L168.0 303.5 L167.0 303.5 L167.0 303.0 L166.0 303.0 L166.0 302.8 L165.0 302.8 L165.0 301.5 L164.0 301.5 L164.0 303.0 L163.0 303.0 L163.0 303.3 L162.0 303.3 L162.0 304.4 L161.0 304.4 L161.0 303.5 L160.0 303.5 L160.0 304.5 L159.0 304.5 L159.0 304.2 L158.0 304.2 L158.0 304.8 L157.0 304.8 L157.0 305.8 L156.0 305.8 L156.0 306.2 L155.0 306.2 L155.0 307.0 L154.0 307.0 L154.0 306.6 L153.0 306.6 L153.0 307.0 L152.0 307.0 L152.0 309.4 L151.0 309.4 L151.0 307.8 L150.0 307.8 L150.0 309.0 L149.0 309.0 L149.0 309.8 L148.0 309.8 L148.0 310.2 L147.0 310.2 L147.0 310.8 L146.0 310.8 L146.0 311.6 L145.0 311.6 L145.0 312.1 L144.0 312.1 L144.0 311.5 L143.0 311.5 L143.0 311.6 L142.0 311.6 L142.0 311.7 L141.0 311.7 L141.0 313.7 L140.0 313.7 L140.0 314.0 L139.0 314.0 L139.0 316.4 L138.0 316.4 L138.0 315.1 L137.0 315.1 L137.0 320.2 L136.0 320.2 L136.0 316.5 L135.0 316.5 L135.0 317.6 L134.0 317.6 L134.0 318.2 L133.0 318.2 L133.0 320.7 L132.0 320.7 L132.0 319.6 L131.0 319.6 L131.0 321.1 L130.0 321.1 L130.0 320.6 L129.0 320.6 L129.0 322.8 L128.0 322.8 L128.0 322.8 L127.0 322.8 L127.0 322.9 L126.0 322.9 L126.0 324.0 L125.0 324.0 L125.0 326.8 L124.0 326.8 L124.0 327.0 L123.0 327.0 L123.0 326.4 L122.0 326.4 L122.0 328.4 L121.0 328.4 L121.0 328.4 L120.0 328.4 L120.0 329.7 L119.0 329.7 L119.0 331.2 L118.0 331.2 L118.0 330.5 L117.0 330.5 L117.0 332.1 L116.0 332.1 L116.0 331.2 L115.0 331.2 L115.0 333.8 L114.0 333.8 L114.0 332.4 L113.0 332.4 L113.0 332.7 L112.0 332.7 L112.0 334.8 L111.0 334.8 L111.0 335.3 L110.0 335.3 L110.0 336.1 L109.0 336.1 L109.0 335.6 L108.0 335.6 L108.0 337.0 L107.0 337.0 L107.0 337.0 L106.0 337.0 L106.0 337.1 L105.0 337.1 L105.0 337.7 L104.0 337.7 L104.0 339.3 L103.0 339.3 L103.0 338.0 L102.0 338.0 L102.0 339.5 L101.0 339.5 L101.0 339.4 L100.0 339.4 L100.0 340.0 L99.0 340.0 L99.0 340.8 L98.0 340.8 L98.0 340.3 L97.0 340.3 L97.0 341.6 L96.0 341.6 L96.0 342.2 L95.0 342.2 L95.0 342.1 L94.0 342.1 L94.0 345.4 L93.0 345.4 L93.0 345.8 L92.0 345.8 L92.0 348.0 L91.0 348.0 L91.0 348.4 L90.0 348.4 L90.0 351.3 L89.0 351.3 L89.0 351.9 L88.0 351.9 L88.0 352.3 L87.0 352.3 L87.0 354.8 L86.0 354.8 L86.0 353.3 L85.0 353.3 L85.0 353.1 L84.0 353.1 L84.0 353.9 L83.0 353.9 L83.0 352.8 L82.0 352.8 L82.0 354.9 L81.0 354.9 L81.0 354.4 L80.0 354.4 L80.0 355.4 L79.0 355.4 L79.0 358.2 L78.0 358.2 L78.0 361.1 L77.0 361.1 L77.0 360.3 L76.0 360.3 L76.0 362.7 L75.0 362.7 L75.0 361.9 L74.0 361.9 L74.0 362.4 L73.0 362.4 L73.0 363.6 L72.0 363.6 L72.0 362.5 L71.0 362.5 L71.0 364.7 L70.0 364.7 L70.0 365.7 L69.0 365.7 L69.0 366.4 L68.0 366.4 L68.0 367.2 L67.0 367.2 L67.0 373.0 L66.0 373.0 L66.0 373.7 L65.0 373.7 L65.0 378.5 L64.0 378.5 L64.0 381.9 L63.0 381.9 L63.0 386.5 L62.0 386.5 L62.0 389.7 L61.0 389.7 L61.0 393.9 L60.0 393.9 L60.0 400.6 L59.0 400.6 L59.0 408.8 L58.0 408.8 L58.0 414.1 L57.0 414.1 L57.0 419.7 L56.0 419.7 L56.0 425.3 L55.0 425.3 L55.0 432.0 L54.0 432.0 L54.0 437.0 L53.0 437.0 L53.0 440.6 L52.0 440.6 L52.0 445.4 L51.0 445.4 L51.0 450.2 L50.0 450.2 L50.0 453.0 L49.0 453.0 L49.0 456.4 L48.0 456.4 L48.0 459.3 L47.0 459.3 L47.0 463.6 L46.0 463.6 L46.0 465.4 L45.0 465.4 L45.0 468.4 L44.0 468.4 L44.0 471.3 L43.0 471.3Z" fill="#000" stroke="#000" stroke-width="0.5" stroke-linejoin="miter"/>
<path d="M43.0 469.3 L47.0 456.9 L50.9 443.9 L53.5 430.9 L56.1 417.9 L58.2 404.9 L60.1 391.9 L62.9 379.0 L65.4 368.6 L67.8 362.0 L74.5 358.0 L81.8 349.7 L89.0 346.8 L96.3 337.4 L103.5 334.5 L110.8 331.0 L118.1 326.6 L125.3 320.3 L132.6 315.2 L139.8 309.3 L147.1 307.0 L154.3 302.5 L164.5 298.5 L171.8 299.5 L179.0 299.5 L186.3 298.8 L193.5 297.4 L200.8 291.8 L208.1 287.6 L215.3 285.8 L222.6 288.0 L229.8 290.5 L237.1 289.4 L244.3 291.6 L250.0 292.5 L257.3 296.5 L264.5 295.8 L271.8 296.2 L279.0 298.0 L286.3 296.5 L293.5 292.9 L300.8 285.6 L308.1 283.5 L315.3 284.5 L322.6 280.2 L329.8 278.7 L333.5 276.6 L337.1 278.4 L342.9 279.5 L350.0 279.0 L353.6 277.7 L358.7 283.2 L364.5 280.6 L367.4 279.2 L371.8 282.4 L379.0 279.2 L383.4 277.7 L387.7 278.8 L393.5 281.4 L399.3 282.8 L403.7 288.6 L408.1 289.7 L413.9 287.2 L419.7 291.2 L425.5 287.2 L429.8 284.3 L437.1 288.6 L445.8 285.7 L449.5 289.5 L454.4 287.5 L460.2 282.1 L464.5 283.9 L470.3 281.7 L476.1 277.0 L480.5 279.5 L486.3 283.2 L493.5 285.7 L499.3 290.4 L503.7 286.8 L508.1 284.3 L513.9 287.9 L519.7 285.7 L524.0 282.8 L529.8 287.5 L537.1 286.1 L542.9 290.8 L550.0 291.0 L555.8 287.4 L561.6 292.8 L567.4 291.7 L574.7 295.7 L581.9 295.0 L589.2 296.8 L596.4 294.6 L599.3 293.5 L605.2 295.0 L611.0 296.5 L615.3 298.3 L619.7 298.3 L625.5 298.3 L629.8 295.7 L634.2 297.2 L638.5 300.1 L642.9 303.3 L647.2 307.0 L651.3 305.6 L657.2 306.5 L661.2 315.5 L665.3 325.2 L669.7 332.6 L673.4 341.5 L675.7 351.9 L676.9 362.2 L677.9 374.0 L679.1 386.9 L679.6 404.2 L680.4 419.0 L681.9 433.9 L683.4 445.7 L685.5 457.0 L686.9 461.0" fill="none" stroke="#000" stroke-width="1.7" stroke-linejoin="round" stroke-linecap="butt"/>
<path d="M43.0 469.3 L47.0 456.9 L50.9 443.9 L53.5 430.9 L56.1 417.9 L58.2 404.9 L60.1 391.9 L62.9 379.0 L65.4 368.6 L67.8 362.0" fill="none" stroke="#000" stroke-width="3.3" stroke-linejoin="round"/>
<path d="M673.4 341.5 L675.7 351.9 L676.9 362.2 L677.9 374.0 L679.1 386.9 L679.6 404.2 L680.4 419.0 L681.9 433.9 L683.4 445.7 L685.5 457.0 L686.9 461.0" fill="none" stroke="#000" stroke-width="1.9" stroke-linejoin="round"/>
<rect x="382.5" y="263.2" width="1.8" height="16" fill="#000"/>
</g>
<path d="M213.19 5.33 L212.75 4.46 L211.89 3.60 L211.02 3.17 L209.29 3.17 L208.43 3.60 L207.56 4.46 L207.13 5.33 L206.70 6.63 L206.70 8.79 L207.13 10.09 L207.56 10.95 L208.43 11.82 L209.29 12.25 L211.02 12.25 L211.89 11.82 L212.75 10.95 L213.19 10.09M216.21 8.36 L224.00 8.36M227.46 3.17 L227.46 12.25M227.46 7.49 L228.32 6.63 L229.19 6.20 L230.49 6.20 L231.35 6.63 L232.22 7.49 L232.65 8.79 L232.65 9.66 L232.22 10.95 L231.35 11.82 L230.49 12.25 L229.19 12.25 L228.32 11.82 L227.46 10.95M240.43 6.20 L240.43 12.25M240.43 7.49 L239.57 6.63 L238.70 6.20 L237.41 6.20 L236.54 6.63 L235.68 7.49 L235.24 8.79 L235.24 9.66 L235.68 10.95 L236.54 11.82 L237.41 12.25 L238.70 12.25 L239.57 11.82 L240.43 10.95M243.89 6.20 L243.89 12.25M243.89 7.92 L245.19 6.63 L246.06 6.20 L247.35 6.20 L248.22 6.63 L248.65 7.92 L248.65 12.25M256.87 3.17 L256.87 12.25M256.87 7.49 L256.00 6.63 L255.14 6.20 L253.84 6.20 L252.98 6.63 L252.11 7.49 L251.68 8.79 L251.68 9.66 L252.11 10.95 L252.98 11.82 L253.84 12.25 L255.14 12.25 L256.00 11.82 L256.87 10.95M267.25 3.17 L267.25 12.25M267.25 3.17 L271.14 3.17 L272.44 3.60 L272.87 4.03 L273.30 4.90 L273.30 5.76 L272.87 6.63 L272.44 7.06 L271.14 7.49 L267.25 7.49M270.27 7.49 L273.30 12.25M276.33 3.17 L276.33 12.25M276.33 3.17 L281.95 3.17M276.33 7.49 L279.79 7.49M284.12 3.17 L284.12 12.25M294.50 6.20 L294.50 15.28M294.50 7.49 L295.36 6.63 L296.23 6.20 L297.52 6.20 L298.39 6.63 L299.25 7.49 L299.69 8.79 L299.69 9.66 L299.25 10.95 L298.39 11.82 L297.52 12.25 L296.23 12.25 L295.36 11.82 L294.50 10.95M302.71 3.17 L302.71 12.25M307.90 6.20 L307.04 6.63 L306.17 7.49 L305.74 8.79 L305.74 9.66 L306.17 10.95 L307.04 11.82 L307.90 12.25 L309.20 12.25 L310.06 11.82 L310.93 10.95 L311.36 9.66 L311.36 8.79 L310.93 7.49 L310.06 6.63 L309.20 6.20 L307.90 6.20M314.82 3.17 L314.82 10.52 L315.25 11.82 L316.12 12.25 L316.99 12.25M313.52 6.20 L316.55 6.20M329.53 1.44 L328.66 2.30 L327.80 3.60 L326.93 5.33 L326.50 7.49 L326.50 9.22 L326.93 11.38 L327.80 13.12 L328.66 14.41 L329.53 15.28M332.56 6.20 L332.56 12.25M332.56 7.92 L333.85 6.63 L334.72 6.20 L336.01 6.20 L336.88 6.63 L337.31 7.92 L337.31 12.25M337.31 7.92 L338.61 6.63 L339.48 6.20 L340.77 6.20 L341.64 6.63 L342.07 7.92 L342.07 12.25M345.10 8.79 L350.29 8.79 L350.29 7.92 L349.86 7.06 L349.42 6.63 L348.56 6.20 L347.26 6.20 L346.39 6.63 L345.53 7.49 L345.10 8.79 L345.10 9.66 L345.53 10.95 L346.39 11.82 L347.26 12.25 L348.56 12.25 L349.42 11.82 L350.29 10.95M358.07 6.20 L358.07 12.25M358.07 7.49 L357.21 6.63 L356.34 6.20 L355.05 6.20 L354.18 6.63 L353.31 7.49 L352.88 8.79 L352.88 9.66 L353.31 10.95 L354.18 11.82 L355.05 12.25 L356.34 12.25 L357.21 11.82 L358.07 10.95M361.53 6.20 L361.53 12.25M361.53 7.92 L362.83 6.63 L363.69 6.20 L364.99 6.20 L365.86 6.63 L366.29 7.92 L366.29 12.25M376.67 6.20 L376.67 15.28M376.67 7.49 L377.53 6.63 L378.40 6.20 L379.70 6.20 L380.56 6.63 L381.43 7.49 L381.86 8.79 L381.86 9.66 L381.43 10.95 L380.56 11.82 L379.70 12.25 L378.40 12.25 L377.53 11.82 L376.67 10.95M386.62 6.20 L385.75 6.63 L384.89 7.49 L384.46 8.79 L384.46 9.66 L384.89 10.95 L385.75 11.82 L386.62 12.25 L387.91 12.25 L388.78 11.82 L389.64 10.95 L390.08 9.66 L390.08 8.79 L389.64 7.49 L388.78 6.63 L387.91 6.20 L386.62 6.20M392.67 6.20 L394.40 12.25M396.13 6.20 L394.40 12.25M396.13 6.20 L397.86 12.25M399.59 6.20 L397.86 12.25M402.19 8.79 L407.38 8.79 L407.38 7.92 L406.94 7.06 L406.51 6.63 L405.65 6.20 L404.35 6.20 L403.49 6.63 L402.62 7.49 L402.19 8.79 L402.19 9.66 L402.62 10.95 L403.49 11.82 L404.35 12.25 L405.65 12.25 L406.51 11.82 L407.38 10.95M410.40 6.20 L410.40 12.25M410.40 8.79 L410.84 7.49 L411.70 6.63 L412.57 6.20 L413.87 6.20M415.60 1.44 L416.46 2.30 L417.33 3.60 L418.19 5.33 L418.62 7.49 L418.62 9.22 L418.19 11.38 L417.33 13.12 L416.46 14.41 L415.60 15.28M429.00 8.36 L436.79 8.36M447.17 3.17 L447.17 12.25M450.63 3.17 L450.63 12.25M450.63 3.17 L456.25 3.17M450.63 7.49 L454.09 7.49M465.33 3.17 L465.33 12.25M465.33 3.17 L469.23 3.17 L470.52 3.60 L470.96 4.03 L471.39 4.90 L471.39 5.76 L470.96 6.63 L470.52 7.06 L469.23 7.49M465.33 7.49 L469.23 7.49 L470.52 7.92 L470.96 8.36 L471.39 9.22 L471.39 10.52 L470.96 11.38 L470.52 11.82 L469.23 12.25 L465.33 12.25M481.34 8.36 L489.12 8.36M499.07 8.79 L504.26 8.79 L504.26 7.92 L503.83 7.06 L503.39 6.63 L502.53 6.20 L501.23 6.20 L500.37 6.63 L499.50 7.49 L499.07 8.79 L499.07 9.66 L499.50 10.95 L500.37 11.82 L501.23 12.25 L502.53 12.25 L503.39 11.82 L504.26 10.95M512.04 6.20 L512.04 12.25M512.04 7.49 L511.18 6.63 L510.31 6.20 L509.01 6.20 L508.15 6.63 L507.28 7.49 L506.85 8.79 L506.85 9.66 L507.28 10.95 L508.15 11.82 L509.01 12.25 L510.31 12.25 L511.18 11.82 L512.04 10.95M515.50 5.33 L515.50 4.90 L515.94 4.03 L516.37 3.60 L517.23 3.17 L518.96 3.17 L519.83 3.60 L520.26 4.03 L520.69 4.90 L520.69 5.76 L520.26 6.63 L519.39 7.92 L515.07 12.25 L521.12 12.25M528.04 3.17 L523.72 9.22 L530.21 9.22M528.04 3.17 L528.04 12.25M497.79 92.42 L494.33 101.50M497.79 92.42 L501.25 101.50M495.63 98.47 L499.95 98.47M507.74 95.44 L502.98 101.50M502.98 95.44 L507.74 95.44M502.98 101.50 L507.74 101.50M517.69 96.31 L525.47 96.31M517.69 98.91 L525.47 98.91M536.28 92.42 L541.04 92.42 L538.45 95.88 L539.75 95.88 L540.61 96.31 L541.04 96.74 L541.48 98.04 L541.48 98.91 L541.04 100.20 L540.18 101.07 L538.88 101.50 L537.58 101.50 L536.28 101.07 L535.85 100.64 L535.42 99.77M549.26 92.42 L544.93 92.42 L544.50 96.31 L544.93 95.88 L546.23 95.44 L547.53 95.44 L548.83 95.88 L549.69 96.74 L550.12 98.04 L550.12 98.91 L549.69 100.20 L548.83 101.07 L547.53 101.50 L546.23 101.50 L544.93 101.07 L544.50 100.64 L544.07 99.77M558.34 95.44 L557.91 96.74 L557.04 97.61 L555.75 98.04 L555.31 98.04 L554.02 97.61 L553.15 96.74 L552.72 95.44 L552.72 95.01 L553.15 93.72 L554.02 92.85 L555.31 92.42 L555.75 92.42 L557.04 92.85 L557.91 93.72 L558.34 95.44 L558.34 97.61 L557.91 99.77 L557.04 101.07 L555.75 101.50 L554.88 101.50 L553.59 101.07 L553.15 100.20M562.24 100.64 L561.80 101.07 L562.24 101.50 L562.67 101.07 L562.24 100.64M566.13 94.58 L566.13 94.15 L566.56 93.28 L566.99 92.85 L567.86 92.42 L569.59 92.42 L570.45 92.85 L570.88 93.28 L571.32 94.15 L571.32 95.01 L570.88 95.88 L570.02 97.17 L565.69 101.50 L571.75 101.50M575.64 101.07 L575.21 101.50 L574.78 101.07 L575.21 100.64 L575.64 101.07 L575.64 101.93 L575.21 102.80 L574.78 103.23M586.02 92.42 L586.02 101.50M586.02 92.42 L591.64 92.42M586.02 96.74 L589.48 96.74M586.02 101.50 L591.64 101.50M594.24 92.42 L594.24 101.50M604.62 96.31 L612.40 96.31M604.62 98.91 L612.40 98.91M624.51 92.42 L623.22 92.85 L622.78 93.72 L622.78 94.58 L623.22 95.44 L624.08 95.88 L625.81 96.31 L627.11 96.74 L627.97 97.61 L628.41 98.47 L628.41 99.77 L627.97 100.64 L627.54 101.07 L626.25 101.50 L624.51 101.50 L623.22 101.07 L622.78 100.64 L622.35 99.77 L622.35 98.47 L622.78 97.61 L623.65 96.74 L624.95 96.31 L626.68 95.88 L627.54 95.44 L627.97 94.58 L627.97 93.72 L627.54 92.85 L626.25 92.42 L624.51 92.42M633.16 92.42 L631.87 92.85 L631.43 93.72 L631.43 94.58 L631.87 95.44 L632.73 95.88 L634.46 96.31 L635.76 96.74 L636.62 97.61 L637.06 98.47 L637.06 99.77 L636.62 100.64 L636.19 101.07 L634.89 101.50 L633.16 101.50 L631.87 101.07 L631.43 100.64 L631.00 99.77 L631.00 98.47 L631.43 97.61 L632.30 96.74 L633.60 96.31 L635.33 95.88 L636.19 95.44 L636.62 94.58 L636.62 93.72 L636.19 92.85 L634.89 92.42 L633.16 92.42M640.52 100.64 L640.09 101.07 L640.52 101.50 L640.95 101.07 L640.52 100.64M646.57 92.42 L645.27 92.85 L644.41 94.15 L643.98 96.31 L643.98 97.61 L644.41 99.77 L645.27 101.07 L646.57 101.50 L647.44 101.50 L648.74 101.07 L649.60 99.77 L650.03 97.61 L650.03 96.31 L649.60 94.15 L648.74 92.85 L647.44 92.42 L646.57 92.42M313.62 524.92 L312.76 524.92 L311.90 525.35 L311.46 526.65 L311.46 534.00M310.17 527.95 L313.19 527.95M316.22 527.95 L316.22 534.00M316.22 530.54 L316.65 529.24 L317.52 528.38 L318.38 527.95 L319.68 527.95M321.41 530.54 L326.60 530.54 L326.60 529.67 L326.17 528.81 L325.74 528.38 L324.87 527.95 L323.57 527.95 L322.71 528.38 L321.84 529.24 L321.41 530.54 L321.41 531.40 L321.84 532.70 L322.71 533.57 L323.57 534.00 L324.87 534.00 L325.74 533.57 L326.60 532.70M334.38 527.95 L334.38 537.03M334.38 529.24 L333.52 528.38 L332.66 527.95 L331.36 527.95 L330.49 528.38 L329.63 529.24 L329.19 530.54 L329.19 531.40 L329.63 532.70 L330.49 533.57 L331.36 534.00 L332.66 534.00 L333.52 533.57 L334.38 532.70M337.85 527.95 L337.85 532.27 L338.28 533.57 L339.14 534.00 L340.44 534.00 L341.31 533.57 L342.60 532.27M342.60 527.95 L342.60 534.00M345.63 530.54 L350.82 530.54 L350.82 529.67 L350.39 528.81 L349.96 528.38 L349.09 527.95 L347.79 527.95 L346.93 528.38 L346.06 529.24 L345.63 530.54 L345.63 531.40 L346.06 532.70 L346.93 533.57 L347.79 534.00 L349.09 534.00 L349.96 533.57 L350.82 532.70M353.85 527.95 L353.85 534.00M353.85 529.67 L355.14 528.38 L356.01 527.95 L357.31 527.95 L358.17 528.38 L358.61 529.67 L358.61 534.00M366.82 529.24 L365.96 528.38 L365.09 527.95 L363.80 527.95 L362.93 528.38 L362.06 529.24 L361.63 530.54 L361.63 531.40 L362.06 532.70 L362.93 533.57 L363.80 534.00 L365.09 534.00 L365.96 533.57 L366.82 532.70M368.99 527.95 L371.58 534.00M374.18 527.95 L371.58 534.00 L370.72 535.73 L369.85 536.60 L368.99 537.03 L368.55 537.03M386.72 523.19 L385.85 524.05 L384.99 525.35 L384.12 527.08 L383.69 529.24 L383.69 530.97 L384.12 533.13 L384.99 534.87 L385.85 536.16 L386.72 537.03M389.75 524.92 L389.75 534.00M389.75 524.92 L393.21 534.00M396.67 524.92 L393.21 534.00M396.67 524.92 L396.67 534.00M400.12 524.92 L400.12 534.00M406.18 524.92 L406.18 534.00M400.12 529.24 L406.18 529.24M413.97 527.95 L409.21 534.00M409.21 527.95 L413.97 527.95M409.21 534.00 L413.97 534.00M416.56 523.19 L417.43 524.05 L418.29 525.35 L419.16 527.08 L419.59 529.24 L419.59 530.97 L419.16 533.13 L418.29 534.87 L417.43 536.16 L416.56 537.03M5.95 300.87 L15.03 300.87M7.24 300.87 L6.38 300.00 L5.95 299.14 L5.95 297.84 L6.38 296.98 L7.24 296.11 L8.54 295.68 L9.41 295.68 L10.70 296.11 L11.57 296.98 L12.00 297.84 L12.00 299.14 L11.57 300.00 L10.70 300.87M5.95 290.92 L6.38 291.79 L7.24 292.65 L8.54 293.09 L9.41 293.09 L10.70 292.65 L11.57 291.79 L12.00 290.92 L12.00 289.62 L11.57 288.76 L10.70 287.90 L9.41 287.46 L8.54 287.46 L7.24 287.90 L6.38 288.76 L5.95 289.62 L5.95 290.92M5.95 284.87 L12.00 283.14M5.95 281.41 L12.00 283.14M5.95 281.41 L12.00 279.68M5.95 277.95 L12.00 279.68M8.54 275.35 L8.54 270.16 L7.67 270.16 L6.81 270.60 L6.38 271.03 L5.95 271.89 L5.95 273.19 L6.38 274.06 L7.24 274.92 L8.54 275.35 L9.41 275.35 L10.70 274.92 L11.57 274.06 L12.00 273.19 L12.00 271.89 L11.57 271.03 L10.70 270.16M5.95 267.14 L12.00 267.14M8.54 267.14 L7.24 266.70 L6.38 265.84 L5.95 264.97 L5.95 263.68M1.19 251.57 L2.05 252.43 L3.35 253.30 L5.08 254.16 L7.24 254.59 L8.97 254.59 L11.13 254.16 L12.87 253.30 L14.16 252.43 L15.03 251.57M2.92 243.78 L12.00 243.78M7.24 243.78 L6.38 244.65 L5.95 245.51 L5.95 246.81 L6.38 247.67 L7.24 248.54 L8.54 248.97 L9.41 248.97 L10.70 248.54 L11.57 247.67 L12.00 246.81 L12.00 245.51 L11.57 244.65 L10.70 243.78M2.92 240.32 L12.00 240.32M2.92 240.32 L2.92 236.43 L3.35 235.13 L3.78 234.70 L4.65 234.27 L5.51 234.27 L6.38 234.70 L6.81 235.13 L7.24 236.43M7.24 240.32 L7.24 236.43 L7.67 235.13 L8.11 234.70 L8.97 234.27 L10.27 234.27 L11.13 234.70 L11.57 235.13 L12.00 236.43 L12.00 240.32M1.19 231.67 L2.05 230.81 L3.35 229.94 L5.08 229.08 L7.24 228.64 L8.97 228.64 L11.13 229.08 L12.87 229.94 L14.16 230.81 L15.03 231.67M33.10 497.12 L28.78 506.20M27.05 497.12 L33.10 497.12M36.13 499.28 L36.13 498.85 L36.56 497.98 L36.99 497.55 L37.86 497.12 L39.59 497.12 L40.45 497.55 L40.89 497.98 L41.32 498.85 L41.32 499.71 L40.89 500.58 L40.02 501.88 L35.70 506.20 L41.75 506.20M46.94 497.12 L45.64 497.55 L44.78 498.85 L44.35 501.01 L44.35 502.31 L44.78 504.47 L45.64 505.77 L46.94 506.20 L47.81 506.20 L49.10 505.77 L49.97 504.47 L50.40 502.31 L50.40 501.01 L49.97 498.85 L49.10 497.55 L47.81 497.12 L46.94 497.12M55.59 497.12 L54.29 497.55 L53.43 498.85 L53.00 501.01 L53.00 502.31 L53.43 504.47 L54.29 505.77 L55.59 506.20 L56.46 506.20 L57.75 505.77 L58.62 504.47 L59.05 502.31 L59.05 501.01 L58.62 498.85 L57.75 497.55 L56.46 497.12 L55.59 497.12M158.84 497.12 L154.52 506.20M152.79 497.12 L158.84 497.12M165.76 497.12 L161.44 503.17 L167.93 503.17M165.76 497.12 L165.76 506.20M172.68 497.12 L171.39 497.55 L170.52 498.85 L170.09 501.01 L170.09 502.31 L170.52 504.47 L171.39 505.77 L172.68 506.20 L173.55 506.20 L174.84 505.77 L175.71 504.47 L176.14 502.31 L176.14 501.01 L175.71 498.85 L174.84 497.55 L173.55 497.12 L172.68 497.12M181.33 497.12 L180.03 497.55 L179.17 498.85 L178.74 501.01 L178.74 502.31 L179.17 504.47 L180.03 505.77 L181.33 506.20 L182.20 506.20 L183.50 505.77 L184.36 504.47 L184.79 502.31 L184.79 501.01 L184.36 498.85 L183.50 497.55 L182.20 497.12 L181.33 497.12M284.58 497.12 L280.26 506.20M278.53 497.12 L284.58 497.12M292.80 498.41 L292.37 497.55 L291.07 497.12 L290.21 497.12 L288.91 497.55 L288.04 498.85 L287.61 501.01 L287.61 503.17 L288.04 504.90 L288.91 505.77 L290.21 506.20 L290.64 506.20 L291.94 505.77 L292.80 504.90 L293.23 503.60 L293.23 503.17 L292.80 501.88 L291.94 501.01 L290.64 500.58 L290.21 500.58 L288.91 501.01 L288.04 501.88 L287.61 503.17M298.42 497.12 L297.12 497.55 L296.26 498.85 L295.83 501.01 L295.83 502.31 L296.26 504.47 L297.12 505.77 L298.42 506.20 L299.29 506.20 L300.59 505.77 L301.45 504.47 L301.88 502.31 L301.88 501.01 L301.45 498.85 L300.59 497.55 L299.29 497.12 L298.42 497.12M307.07 497.12 L305.78 497.55 L304.91 498.85 L304.48 501.01 L304.48 502.31 L304.91 504.47 L305.78 505.77 L307.07 506.20 L307.94 506.20 L309.24 505.77 L310.10 504.47 L310.53 502.31 L310.53 501.01 L310.10 498.85 L309.24 497.55 L307.94 497.12 L307.07 497.12M410.32 497.12 L406.00 506.20M404.27 497.12 L410.32 497.12M415.08 497.12 L413.78 497.55 L413.35 498.41 L413.35 499.28 L413.78 500.14 L414.65 500.58 L416.38 501.01 L417.68 501.44 L418.54 502.31 L418.97 503.17 L418.97 504.47 L418.54 505.33 L418.11 505.77 L416.81 506.20 L415.08 506.20 L413.78 505.77 L413.35 505.33 L412.92 504.47 L412.92 503.17 L413.35 502.31 L414.22 501.44 L415.51 501.01 L417.24 500.58 L418.11 500.14 L418.54 499.28 L418.54 498.41 L418.11 497.55 L416.81 497.12 L415.08 497.12M424.16 497.12 L422.87 497.55 L422.00 498.85 L421.57 501.01 L421.57 502.31 L422.00 504.47 L422.87 505.77 L424.16 506.20 L425.03 506.20 L426.33 505.77 L427.19 504.47 L427.62 502.31 L427.62 501.01 L427.19 498.85 L426.33 497.55 L425.03 497.12 L424.16 497.12M432.81 497.12 L431.52 497.55 L430.65 498.85 L430.22 501.01 L430.22 502.31 L430.65 504.47 L431.52 505.77 L432.81 506.20 L433.68 506.20 L434.98 505.77 L435.84 504.47 L436.27 502.31 L436.27 501.01 L435.84 498.85 L434.98 497.55 L433.68 497.12 L432.81 497.12M532.17 497.12 L530.87 497.55 L530.44 498.41 L530.44 499.28 L530.87 500.14 L531.74 500.58 L533.47 501.01 L534.76 501.44 L535.63 502.31 L536.06 503.17 L536.06 504.47 L535.63 505.33 L535.20 505.77 L533.90 506.20 L532.17 506.20 L530.87 505.77 L530.44 505.33 L530.01 504.47 L530.01 503.17 L530.44 502.31 L531.31 501.44 L532.60 501.01 L534.33 500.58 L535.20 500.14 L535.63 499.28 L535.63 498.41 L535.20 497.55 L533.90 497.12 L532.17 497.12M541.25 497.12 L539.96 497.55 L539.09 498.85 L538.66 501.01 L538.66 502.31 L539.09 504.47 L539.96 505.77 L541.25 506.20 L542.12 506.20 L543.42 505.77 L544.28 504.47 L544.71 502.31 L544.71 501.01 L544.28 498.85 L543.42 497.55 L542.12 497.12 L541.25 497.12M549.90 497.12 L548.61 497.55 L547.74 498.85 L547.31 501.01 L547.31 502.31 L547.74 504.47 L548.61 505.77 L549.90 506.20 L550.77 506.20 L552.07 505.77 L552.93 504.47 L553.36 502.31 L553.36 501.01 L552.93 498.85 L552.07 497.55 L550.77 497.12 L549.90 497.12M558.55 497.12 L557.25 497.55 L556.39 498.85 L555.96 501.01 L555.96 502.31 L556.39 504.47 L557.25 505.77 L558.55 506.20 L559.42 506.20 L560.72 505.77 L561.58 504.47 L562.01 502.31 L562.01 501.01 L561.58 498.85 L560.72 497.55 L559.42 497.12 L558.55 497.12M657.91 497.12 L656.61 497.55 L656.18 498.41 L656.18 499.28 L656.61 500.14 L657.48 500.58 L659.21 501.01 L660.50 501.44 L661.37 502.31 L661.80 503.17 L661.80 504.47 L661.37 505.33 L660.94 505.77 L659.64 506.20 L657.91 506.20 L656.61 505.77 L656.18 505.33 L655.75 504.47 L655.75 503.17 L656.18 502.31 L657.05 501.44 L658.34 501.01 L660.07 500.58 L660.94 500.14 L661.37 499.28 L661.37 498.41 L660.94 497.55 L659.64 497.12 L657.91 497.12M664.83 499.28 L664.83 498.85 L665.26 497.98 L665.70 497.55 L666.56 497.12 L668.29 497.12 L669.16 497.55 L669.59 497.98 L670.02 498.85 L670.02 499.71 L669.59 500.58 L668.72 501.88 L664.40 506.20 L670.45 506.20M675.64 497.12 L674.35 497.55 L673.48 498.85 L673.05 501.01 L673.05 502.31 L673.48 504.47 L674.35 505.77 L675.64 506.20 L676.51 506.20 L677.81 505.77 L678.67 504.47 L679.10 502.31 L679.10 501.01 L678.67 498.85 L677.81 497.55 L676.51 497.12 L675.64 497.12M684.29 497.12 L683.00 497.55 L682.13 498.85 L681.70 501.01 L681.70 502.31 L682.13 504.47 L683.00 505.77 L684.29 506.20 L685.16 506.20 L686.46 505.77 L687.32 504.47 L687.75 502.31 L687.75 501.01 L687.32 498.85 L686.46 497.55 L685.16 497.12 L684.29 497.12M24.12 416.93 L24.55 418.23 L25.85 419.09 L28.01 419.53 L29.31 419.53 L31.47 419.09 L32.77 418.23 L33.20 416.93 L33.20 416.07 L32.77 414.77 L31.47 413.90 L29.31 413.47 L28.01 413.47 L25.85 413.90 L24.55 414.77 L24.12 416.07 L24.12 416.93M25.85 329.55 L25.42 328.69 L24.12 327.39 L33.20 327.39M24.12 319.61 L24.55 320.90 L25.85 321.77 L28.01 322.20 L29.31 322.20 L31.47 321.77 L32.77 320.90 L33.20 319.61 L33.20 318.74 L32.77 317.44 L31.47 316.58 L29.31 316.15 L28.01 316.15 L25.85 316.58 L24.55 317.44 L24.12 318.74 L24.12 319.61M26.28 237.42 L25.85 237.42 L24.98 236.99 L24.55 236.56 L24.12 235.69 L24.12 233.96 L24.55 233.09 L24.98 232.66 L25.85 232.23 L26.71 232.23 L27.58 232.66 L28.88 233.53 L33.20 237.85 L33.20 231.80M24.12 226.61 L24.55 227.91 L25.85 228.77 L28.01 229.20 L29.31 229.20 L31.47 228.77 L32.77 227.91 L33.20 226.61 L33.20 225.74 L32.77 224.44 L31.47 223.58 L29.31 223.15 L28.01 223.15 L25.85 223.58 L24.55 224.44 L24.12 225.74 L24.12 226.61M24.12 143.99 L24.12 139.23 L27.58 141.83 L27.58 140.53 L28.01 139.66 L28.44 139.23 L29.74 138.80 L30.61 138.80 L31.90 139.23 L32.77 140.09 L33.20 141.39 L33.20 142.69 L32.77 143.99 L32.34 144.42 L31.47 144.85M24.12 133.61 L24.55 134.91 L25.85 135.77 L28.01 136.20 L29.31 136.20 L31.47 135.77 L32.77 134.91 L33.20 133.61 L33.20 132.74 L32.77 131.44 L31.47 130.58 L29.31 130.15 L28.01 130.15 L25.85 130.58 L24.55 131.44 L24.12 132.74 L24.12 133.61M24.12 47.53 L30.17 51.85 L30.17 45.36M24.12 47.53 L33.20 47.53M24.12 40.61 L24.55 41.91 L25.85 42.77 L28.01 43.20 L29.31 43.20 L31.47 42.77 L32.77 41.91 L33.20 40.61 L33.20 39.74 L32.77 38.45 L31.47 37.58 L29.31 37.15 L28.01 37.15 L25.85 37.58 L24.55 38.45 L24.12 39.74 L24.12 40.61" fill="none" stroke="#000" stroke-width="1.6" stroke-linecap="round" stroke-linejoin="round"/>
</svg>
</body></html>
